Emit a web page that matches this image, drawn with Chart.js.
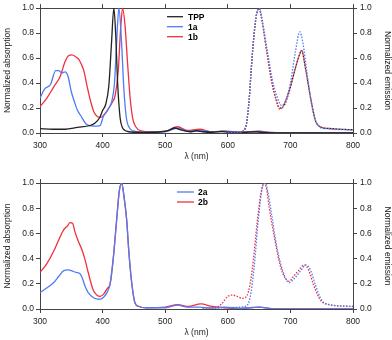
<!DOCTYPE html>
<html>
<head>
<meta charset="utf-8">
<script src="https://cdn.jsdelivr.net/npm/chart.js@4"></script>
<style>
  html, body { margin: 0; padding: 0; background: #fff; }
  body { width: 392px; height: 340px; position: relative; overflow: hidden; }
  canvas { position: absolute; left: 0; }
  #c1 { top: 0; }
  #c2 { top: 170px; }
</style>
</head>
<body>
<canvas id="c1" width="392" height="170"></canvas>
<canvas id="c2" width="392" height="170"></canvas>
<script>
// ---------- data ----------
const xTicks = [300, 400, 500, 600, 700, 800];
const yTicks = [0.0, 0.2, 0.4, 0.6, 0.8, 1.0];

// Top panel: absorption
const tppAbsWl  = [300,320,340,360,380,388,395,400,405,410,414,418,421,424,428,432,436,440,450,470,490,505,515,525,540,550,560,575,590,600,620,645,660,700,800];
const tppAbsVal = [0.035,0.03,0.03,0.045,0.06,0.08,0.12,0.18,0.23,0.38,0.7,1.0,0.78,0.4,0.12,0.04,0.02,0.012,0.006,0.005,0.008,0.02,0.04,0.025,0.01,0.018,0.01,0.006,0.012,0.006,0.004,0.01,0.002,0.0,0.0];

const a1AbsWl  = [300,307,317,325,330,335,340,345,350,355,360,365,374,385,396,401,409,415,419,422,426,430,434,438,443,450,470,500,520,535,555,575,595,620,650,670,700,800];
const a1AbsVal = [0.28,0.35,0.39,0.5,0.5,0.48,0.49,0.45,0.33,0.25,0.18,0.14,0.07,0.055,0.06,0.13,0.19,0.26,0.4,0.68,1.0,0.75,0.35,0.12,0.04,0.015,0.006,0.01,0.04,0.015,0.02,0.008,0.015,0.005,0.012,0.003,0.0,0.0];

const b1AbsWl  = [300,311,322,332,340,346,351,357,362,366,370,375,380,386,392,397,403,410,416,420,425,429,432,436,440,444,448,453,460,480,500,520,535,555,575,595,620,650,670,700,800];
const b1AbsVal = [0.21,0.28,0.37,0.45,0.57,0.62,0.625,0.61,0.59,0.55,0.5,0.38,0.27,0.17,0.13,0.125,0.15,0.2,0.25,0.3,0.5,0.85,1.0,0.85,0.55,0.28,0.12,0.05,0.02,0.01,0.015,0.05,0.02,0.03,0.01,0.015,0.006,0.014,0.004,0.002,0.0];

// Top panel: emission
const tppEmWl  = [600,615,626,630,634,638,642,646,650,655,663,671,677,683,690,698,708,714,718,724,732,740,745,750,766,800];
const tppEmVal = [0.005,0.005,0.02,0.08,0.26,0.55,0.79,0.95,1.0,0.89,0.63,0.39,0.27,0.2,0.22,0.33,0.52,0.62,0.66,0.52,0.29,0.1,0.06,0.045,0.035,0.025];

const a1EmWl  = [600,615,626,630,634,638,642,646,650,655,663,671,678,686,693,700,708,715,720,726,733,740,746,755,800];
const a1EmVal = [0.005,0.005,0.02,0.08,0.26,0.55,0.8,0.96,1.0,0.9,0.66,0.43,0.3,0.22,0.27,0.4,0.65,0.81,0.72,0.5,0.25,0.1,0.05,0.035,0.025];

const b1EmWl  = [600,615,626,630,634,638,642,646,650,655,663,671,677,683,690,698,708,714,718,724,732,740,745,750,766,800];
const b1EmVal = [0.005,0.005,0.02,0.08,0.26,0.55,0.79,0.95,1.0,0.89,0.63,0.39,0.27,0.19,0.23,0.34,0.52,0.62,0.66,0.52,0.29,0.1,0.06,0.045,0.035,0.025];

// Bottom panel: absorption
const a2AbsWl  = [300,310,322,330,338,345,352,358,364,368,372,377,383,390,396,402,407,412,417,422.5,426.5,430.5,434,438.4,442,446,451.6,458,470,500,520,535,555,575,595,620,650,670,700,800];
const a2AbsVal = [0.13,0.165,0.21,0.26,0.305,0.31,0.3,0.29,0.28,0.24,0.18,0.13,0.1,0.08,0.078,0.095,0.13,0.2,0.4,0.71,0.93,1.0,0.9,0.71,0.45,0.23,0.05,0.02,0.01,0.01,0.03,0.015,0.015,0.008,0.015,0.005,0.015,0.003,0.0,0.0];

const b2AbsWl  = [300,311,322,330,338,344,348,352,356,361,367,372,377,385,391,396,402,407,412,417,422.5,426.5,430.5,434,438.4,442,446,451.6,458,470,500,520,537,557,575,595,620,650,670,700,800];
const b2AbsVal = [0.29,0.36,0.46,0.55,0.63,0.66,0.685,0.68,0.61,0.54,0.47,0.39,0.29,0.15,0.11,0.1,0.12,0.16,0.2,0.4,0.71,0.93,1.0,0.9,0.71,0.45,0.23,0.05,0.02,0.01,0.015,0.035,0.02,0.04,0.02,0.01,0.005,0.015,0.003,0.0,0.0];

// Bottom panel: emission
const a2EmWl  = [560,600,620,630,636,642,649,655,660,664,670,678,688,698,706,716,725,732,740,750,763,800];
const a2EmVal = [0.005,0.01,0.015,0.025,0.1,0.33,0.72,0.96,1.0,0.93,0.75,0.5,0.3,0.21,0.24,0.3,0.35,0.31,0.19,0.07,0.035,0.02];

const b2EmWl  = [560,580,590,600,608,615,623,631,639,647,653,658,662,666,674,684,691,698,705,714,722,729,737,748,761,800];
const b2EmVal = [0.005,0.01,0.04,0.1,0.11,0.1,0.085,0.11,0.31,0.69,0.92,1.0,0.95,0.81,0.58,0.34,0.25,0.22,0.26,0.31,0.35,0.31,0.19,0.07,0.035,0.02];

// ---------- styling ----------
const BLACK = '#222222', BLUE = '#4f7bf5', RED = '#f0303f';
const FONT = 'Liberation Sans, Arial, sans-serif';
const pts = (wl, v) => wl.map((x, i) => ({ x, y: v[i] }));

function absDS(label, wl, v, color) {
  return { label, data: pts(wl, v), borderColor: color, borderWidth: 1.3, pointRadius: 0,
           cubicInterpolationMode: 'monotone', yAxisID: 'y', xAxisID: 'x', showInLegend: true, fill: false };
}
function emDS(label, wl, v, color) {
  return { label, data: pts(wl, v), borderColor: color, borderWidth: 1.3, pointRadius: 0, borderDash: [1.5, 1.5],
           cubicInterpolationMode: 'monotone', yAxisID: 'y2', xAxisID: 'x', showInLegend: false, fill: false };
}

const legendPlugin = {
  id: 'customLegend',
  afterDraw(chart, args, opts) {
    const ctx = chart.ctx;
    ctx.save();
    ctx.font = 'bold 8.5px ' + FONT;
    ctx.textBaseline = 'middle';
    ctx.textAlign = 'left';
    let i = 0;
    chart.data.datasets.forEach(ds => {
      if (!ds.showInLegend) return;
      const y = opts.y + i * opts.dy;
      ctx.strokeStyle = ds.borderColor;
      ctx.lineWidth = 1.3;
      ctx.setLineDash([]);
      ctx.beginPath();
      ctx.moveTo(opts.x1, y);
      ctx.lineTo(opts.x2, y);
      ctx.stroke();
      ctx.fillStyle = '#000';
      ctx.fillText(ds.label, opts.tx, y + 0.5);
      i++;
    });
    ctx.restore();
  }
};

function makeOptions(sizes, legend) {
  const tickFont = { family: FONT, size: 8.5 };
  const titleFont = { family: FONT, size: 8.5 };
  const border = { display: true, color: '#444', width: 1 };
  const grid = { display: true, drawOnChartArea: false, drawTicks: true, tickLength: 4, color: '#444', tickColor: '#444' };
  return {
    responsive: false,
    animation: false,
    events: [],
    layout: { padding: 0 },
    plugins: { legend: { display: false }, tooltip: { enabled: false }, customLegend: legend },
    scales: {
      x: {
        type: 'linear', position: 'bottom', min: 300, max: 800,
        afterBuildTicks: s => { s.ticks = xTicks.map(v => ({ value: v })); },
        ticks: { font: tickFont, color: '#222', padding: 4, maxRotation: 0, callback: v => String(v) },
        grid, border,
        title: { display: true, text: 'λ (nm)', font: titleFont, color: '#222', padding: { top: 0, bottom: sizes.xTitlePad } },
        afterFit: s => { s.height = sizes.xH; }
      },
      x2: {
        type: 'linear', position: 'top', min: 300, max: 800,
        afterBuildTicks: s => { s.ticks = xTicks.map(v => ({ value: v })); },
        ticks: { display: false },
        grid, border,
        afterFit: s => { s.height = sizes.x2H; }
      },
      y: {
        type: 'linear', position: 'left', min: 0, max: 1,
        afterBuildTicks: s => { s.ticks = yTicks.map(v => ({ value: v })); },
        ticks: { font: tickFont, color: '#222', padding: 2, callback: v => v.toFixed(1) },
        grid, border,
        title: { display: true, text: 'Normalized absorption', font: titleFont, color: '#222', padding: { top: 2.8, bottom: 0 } },
        afterFit: s => { s.width = 40; }
      },
      y2: {
        type: 'linear', position: 'right', min: 0, max: 1,
        afterBuildTicks: s => { s.ticks = yTicks.map(v => ({ value: v })); },
        ticks: { font: tickFont, color: '#222', padding: 3, callback: v => v.toFixed(1) },
        grid, border,
        title: { display: true, text: 'Normalized emission', font: titleFont, color: '#222', padding: { top: 0, bottom: 0 } },
        afterFit: s => { s.width = 39; }
      }
    }
  };
}

new Chart(document.getElementById('c1'), {
  type: 'line',
  data: {
    datasets: [
      emDS('1a em', a1EmWl, a1EmVal, BLUE),
      emDS('1b em', b1EmWl, b1EmVal, RED),
      emDS('TPP em', tppEmWl, tppEmVal, BLACK),
      absDS('TPP', tppAbsWl, tppAbsVal, BLACK),
      absDS('1a', a1AbsWl, a1AbsVal, BLUE),
      absDS('1b', b1AbsWl, b1AbsVal, RED)
    ]
  },
  options: makeOptions({ xH: 37, x2H: 7, xTitlePad: 7.8 }, { x1: 167, x2: 183, tx: 188, y: 16.7, dy: 10 }),
  plugins: [legendPlugin]
});

new Chart(document.getElementById('c2'), {
  type: 'line',
  data: {
    datasets: [
      emDS('2a em', a2EmWl, a2EmVal, BLUE),
      emDS('2b em', b2EmWl, b2EmVal, RED),
      absDS('2a', a2AbsWl, a2AbsVal, BLUE),
      absDS('2b', b2AbsWl, b2AbsVal, RED)
    ]
  },
  options: makeOptions({ xH: 31, x2H: 13, xTitlePad: 1.8 }, { x1: 177, x2: 194, tx: 198, y: 22, dy: 10 }),
  plugins: [legendPlugin]
});
</script>
</body>
</html>
